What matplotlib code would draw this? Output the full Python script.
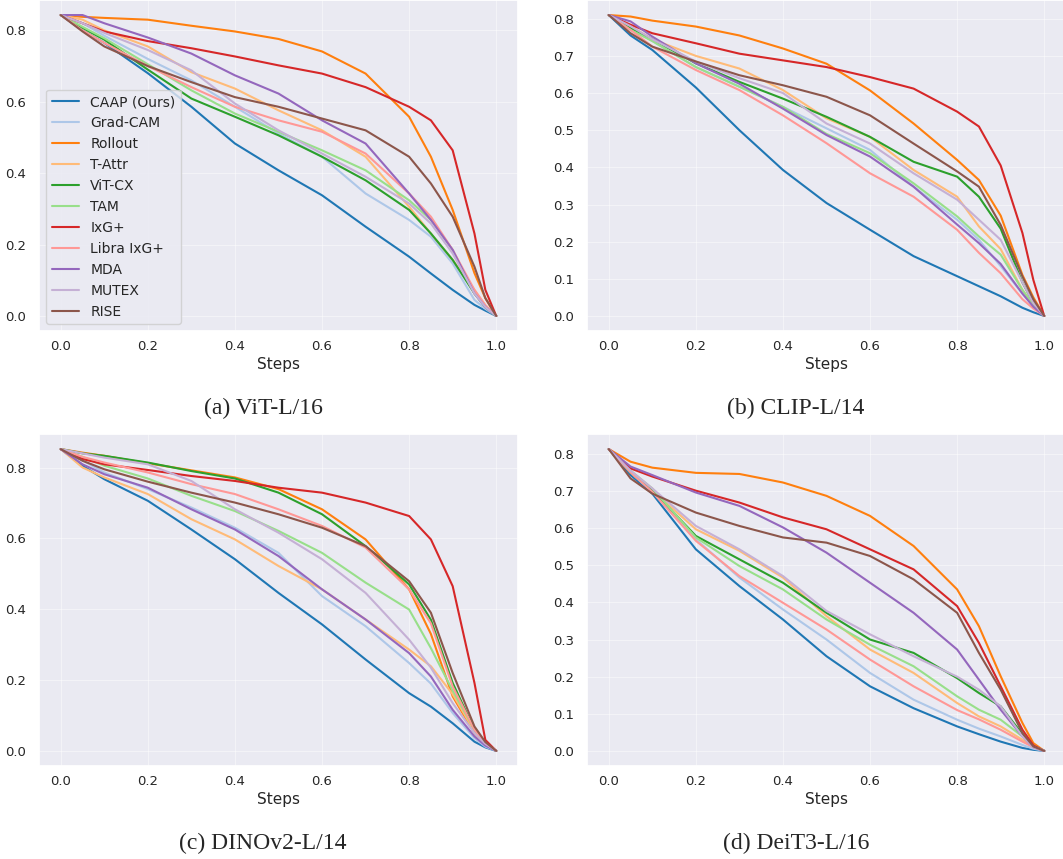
import matplotlib
matplotlib.use("Agg")
import matplotlib.pyplot as plt
import seaborn as sns

sns.set_theme(style="darkgrid")
plt.rcParams['font.family'] = ['DejaVu Sans']

methods = ["CAAP (Ours)", "Grad-CAM", "Rollout", "T-Attr", "ViT-CX", "TAM",
           "IxG+", "Libra IxG+", "MDA", "MUTEX", "RISE"]
colors = ["#1f77b4", "#aec7e8", "#ff7f0e", "#ffbb78", "#2ca02c", "#98df8a",
          "#d62728", "#ff9896", "#9467bd", "#c5b0d5", "#8c564b"]

steps = [0, 0.05, 0.1, 0.2, 0.3, 0.4, 0.5, 0.6, 0.7, 0.8, 0.85, 0.9, 0.95, 0.975, 1.0]

# (a) ViT-L/16
vit_l16 = [
    [0.843, 0.800, 0.765, 0.680, 0.586, 0.483, 0.408, 0.338, 0.250, 0.166, 0.119, 0.073, 0.031, 0.015, 0],
    [0.843, 0.820, 0.785, 0.720, 0.660, 0.586, 0.511, 0.446, 0.343, 0.269, 0.222, 0.147, 0.045, 0.020, 0],
    [0.843, 0.838, 0.835, 0.830, 0.813, 0.797, 0.776, 0.741, 0.679, 0.558, 0.446, 0.297, 0.120, 0.050, 0],
    [0.843, 0.830, 0.800, 0.755, 0.683, 0.637, 0.576, 0.520, 0.446, 0.306, 0.231, 0.157, 0.073, 0.030, 0],
    [0.843, 0.807, 0.774, 0.690, 0.609, 0.558, 0.506, 0.446, 0.380, 0.297, 0.231, 0.157, 0.063, 0.025, 0],
    [0.843, 0.810, 0.778, 0.705, 0.632, 0.567, 0.516, 0.464, 0.408, 0.324, 0.269, 0.185, 0.063, 0.025, 0],
    [0.843, 0.820, 0.797, 0.770, 0.750, 0.727, 0.702, 0.679, 0.641, 0.586, 0.548, 0.464, 0.231, 0.073, 0],
    [0.843, 0.800, 0.765, 0.700, 0.641, 0.586, 0.548, 0.516, 0.455, 0.343, 0.278, 0.185, 0.073, 0.030, 0],
    [0.843, 0.843, 0.820, 0.780, 0.735, 0.674, 0.623, 0.548, 0.483, 0.343, 0.269, 0.185, 0.063, 0.025, 0],
    [0.843, 0.820, 0.793, 0.745, 0.688, 0.595, 0.520, 0.455, 0.390, 0.315, 0.259, 0.175, 0.063, 0.025, 0],
    [0.843, 0.797, 0.755, 0.700, 0.655, 0.613, 0.586, 0.553, 0.520, 0.446, 0.371, 0.278, 0.138, 0.050, 0],
]

# (b) CLIP-L/14
clip_l14 = [
    [0.810, 0.755, 0.716, 0.615, 0.500, 0.393, 0.304, 0.232, 0.161, 0.107, 0.080, 0.053, 0.022, 0.010, 0],
    [0.810, 0.775, 0.740, 0.670, 0.617, 0.563, 0.505, 0.447, 0.348, 0.259, 0.205, 0.134, 0.060, 0.028, 0],
    [0.810, 0.806, 0.795, 0.779, 0.755, 0.720, 0.679, 0.607, 0.518, 0.420, 0.366, 0.270, 0.110, 0.050, 0],
    [0.810, 0.780, 0.745, 0.700, 0.666, 0.608, 0.532, 0.482, 0.393, 0.321, 0.241, 0.180, 0.070, 0.030, 0],
    [0.810, 0.775, 0.745, 0.680, 0.630, 0.585, 0.536, 0.482, 0.415, 0.375, 0.321, 0.235, 0.090, 0.035, 0],
    [0.810, 0.770, 0.740, 0.670, 0.617, 0.563, 0.490, 0.438, 0.357, 0.268, 0.214, 0.165, 0.070, 0.030, 0],
    [0.810, 0.784, 0.761, 0.734, 0.706, 0.688, 0.670, 0.643, 0.612, 0.550, 0.510, 0.405, 0.223, 0.097, 0],
    [0.810, 0.770, 0.725, 0.662, 0.608, 0.540, 0.465, 0.384, 0.321, 0.232, 0.170, 0.115, 0.045, 0.020, 0],
    [0.810, 0.793, 0.752, 0.680, 0.625, 0.558, 0.487, 0.429, 0.348, 0.246, 0.196, 0.140, 0.060, 0.025, 0],
    [0.810, 0.780, 0.745, 0.685, 0.640, 0.600, 0.518, 0.464, 0.384, 0.313, 0.259, 0.205, 0.090, 0.035, 0],
    [0.810, 0.761, 0.725, 0.685, 0.648, 0.621, 0.590, 0.540, 0.464, 0.389, 0.348, 0.245, 0.106, 0.045, 0],
]

# (c) DINOv2-L/14
dinov2_l14 = [
    [0.852, 0.805, 0.767, 0.706, 0.625, 0.541, 0.446, 0.357, 0.258, 0.163, 0.125, 0.078, 0.026, 0.010, 0],
    [0.852, 0.820, 0.786, 0.739, 0.687, 0.630, 0.559, 0.437, 0.352, 0.248, 0.190, 0.107, 0.036, 0.012, 0],
    [0.852, 0.842, 0.833, 0.812, 0.792, 0.772, 0.739, 0.682, 0.597, 0.456, 0.330, 0.154, 0.050, 0.020, 0],
    [0.852, 0.800, 0.772, 0.725, 0.654, 0.597, 0.522, 0.456, 0.371, 0.286, 0.239, 0.160, 0.055, 0.020, 0],
    [0.852, 0.840, 0.833, 0.814, 0.790, 0.769, 0.729, 0.668, 0.578, 0.470, 0.370, 0.192, 0.060, 0.020, 0],
    [0.852, 0.830, 0.805, 0.769, 0.720, 0.677, 0.621, 0.559, 0.475, 0.399, 0.290, 0.170, 0.060, 0.020, 0],
    [0.852, 0.824, 0.809, 0.793, 0.776, 0.762, 0.743, 0.729, 0.701, 0.663, 0.597, 0.465, 0.192, 0.031, 0],
    [0.852, 0.830, 0.814, 0.786, 0.753, 0.725, 0.682, 0.635, 0.574, 0.456, 0.360, 0.182, 0.060, 0.020, 0],
    [0.852, 0.809, 0.781, 0.743, 0.682, 0.625, 0.550, 0.456, 0.371, 0.276, 0.210, 0.116, 0.041, 0.015, 0],
    [0.852, 0.840, 0.828, 0.809, 0.762, 0.682, 0.616, 0.541, 0.446, 0.314, 0.235, 0.135, 0.050, 0.020, 0],
    [0.852, 0.819, 0.795, 0.760, 0.729, 0.701, 0.668, 0.630, 0.578, 0.479, 0.390, 0.220, 0.069, 0.025, 0],
]

# (d) DeiT3-L/16
deit3_l16 = [
    [0.813, 0.743, 0.693, 0.543, 0.444, 0.354, 0.255, 0.174, 0.115, 0.066, 0.045, 0.025, 0.008, 0.003, 0],
    [0.813, 0.750, 0.698, 0.570, 0.467, 0.381, 0.300, 0.210, 0.138, 0.084, 0.060, 0.039, 0.016, 0.006, 0],
    [0.813, 0.779, 0.763, 0.749, 0.746, 0.723, 0.687, 0.633, 0.552, 0.435, 0.336, 0.201, 0.075, 0.021, 0],
    [0.813, 0.750, 0.702, 0.597, 0.539, 0.467, 0.363, 0.273, 0.210, 0.129, 0.093, 0.066, 0.030, 0.012, 0],
    [0.813, 0.750, 0.702, 0.579, 0.516, 0.453, 0.372, 0.300, 0.264, 0.196, 0.156, 0.120, 0.045, 0.012, 0],
    [0.813, 0.755, 0.707, 0.575, 0.498, 0.435, 0.354, 0.286, 0.228, 0.147, 0.111, 0.084, 0.039, 0.015, 0],
    [0.813, 0.761, 0.739, 0.701, 0.669, 0.629, 0.597, 0.543, 0.489, 0.390, 0.291, 0.174, 0.057, 0.015, 0],
    [0.813, 0.750, 0.698, 0.566, 0.471, 0.399, 0.327, 0.246, 0.174, 0.110, 0.085, 0.057, 0.025, 0.010, 0],
    [0.813, 0.766, 0.743, 0.696, 0.660, 0.602, 0.534, 0.453, 0.372, 0.273, 0.192, 0.111, 0.039, 0.010, 0],
    [0.813, 0.755, 0.707, 0.606, 0.543, 0.471, 0.377, 0.314, 0.255, 0.200, 0.165, 0.120, 0.039, 0.010, 0],
    [0.813, 0.734, 0.693, 0.642, 0.606, 0.575, 0.561, 0.525, 0.462, 0.372, 0.264, 0.165, 0.048, 0.012, 0],
]

panels = [vit_l16, clip_l14, dinov2_l14, deit3_l16]
captions = ["(a) ViT-L/16", "(b) CLIP-L/14", "(c) DINOv2-L/14", "(d) DeiT3-L/16"]

W, H = 1063, 859
fig = plt.figure(figsize=(W / 100, H / 100), dpi=100)

# axes boxes in pixels: left, top, right, bottom
boxes = [(39, 0, 518, 331), (587, 0, 1066, 331),
         (39, 434, 518, 766), (587, 434, 1066, 766)]
cap_pos = [(263, 408), (796, 408), (263, 843), (796, 843)]

for i, (data, cap, box, cp) in enumerate(zip(panels, captions, boxes, cap_pos)):
    l, t, r, b = box
    ax = fig.add_axes([l / W, 1 - b / H, (r - l) / W, (b - t) / H])
    ax.grid(True, color="white", linewidth=0.8, alpha=0.45)
    for name, col, ys in zip(methods, colors, data):
        ax.plot(steps, ys, color=col, lw=1.5, label=name)
    ax.set_xlabel("Steps", fontsize=11, labelpad=3)
    ax.tick_params(axis='x', labelsize=9.5, pad=0.5)
    ax.tick_params(axis='y', labelsize=9.5, pad=3)
    ax.set_xticks([0.0, 0.2, 0.4, 0.6, 0.8, 1.0])
    if i == 0:
        ax.legend(loc="lower left", fontsize=10)
    fig.text(cp[0] / W, 1 - cp[1] / H, cap, ha="center", va="center",
             fontsize=17, family="Liberation Serif")

fig.savefig("out.png", dpi=100)
